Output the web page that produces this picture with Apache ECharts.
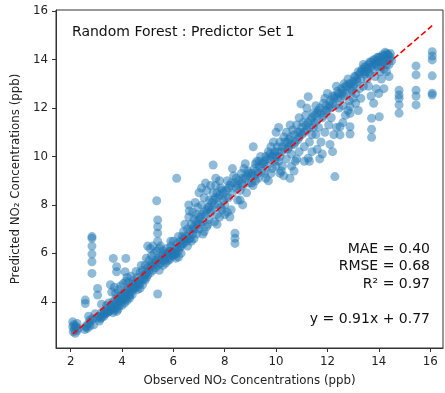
<!DOCTYPE html>
<html>
<head>
<meta charset="utf-8">
<script src="https://cdn.jsdelivr.net/npm/echarts@6/dist/echarts.min.js"></script>
<style>
  html, body { margin: 0; padding: 0; background: #fff; }
  #chart { width: 445px; height: 393px; }
</style>
</head>
<body>
<div id="chart"></div>
<script>
// Observed vs predicted NO2 (ppb), grouped by observed-value range
const bandLow = [
  [2.08,3.17],[2.08,2.97],[2.1,2.76],[2.12,3.05],[2.15,2.85],[2.2,2.95],[2.25,3.1],[2.18,2.7],[2.3,2.9],
  [2.55,2.85],[2.6,3.0],[2.65,2.9],[2.7,3.1],[2.75,3.0],[2.8,3.2],[2.85,3.3],[2.9,3.05],[2.7,3.4],[2.95,3.5],
  [3.1,3.4],[3.15,3.3],[3.2,3.55],[3.25,3.45],[3.3,3.6],[3.35,3.5],[3.4,3.7],[3.45,3.6],[3.12,3.2],[3.3,3.4],
  [3.2,3.9],[3.4,3.85],[3.05,3.35],[3.48,3.95],
  [3.5,3.6],[3.55,3.8],[3.6,3.7],[3.65,4.0],[3.7,3.9],[3.75,4.1],[3.8,3.75],[3.85,4.2],[3.9,4.0],[3.95,4.3],
  [3.6,4.4],[3.7,4.6],[3.55,4.7],[3.8,3.6],[3.9,3.85],[3.65,3.55],[3.75,4.35],[3.85,4.5],[3.95,4.65],[3.7,3.65],[3.9,4.1],
  [4.0,4.0],[4.05,4.2],[4.1,4.4],[4.15,4.1],[4.2,4.5],[4.25,4.3],[4.3,4.6],[4.35,4.4],[4.4,4.7],[4.45,4.5],
  [4.2,5.0],[4.0,3.85],[4.1,3.95],[4.2,4.05],[4.3,4.15],[4.05,4.75],[4.15,4.85],[4.4,4.3],[4.45,4.9],[4.25,4.8],[4.35,5.05],
  [4.5,4.6],[4.55,4.8],[4.6,5.0],[4.65,4.7],[4.7,5.2],[4.75,4.9],[4.8,5.3],[4.85,5.1],[4.9,5.5],[4.95,5.2],
  [4.6,4.5],[4.7,4.55],[4.8,4.7],[4.9,4.9],[4.55,5.25],[4.75,5.5],[4.95,5.8],
  [2.2,3.0],[2.25,2.8],[2.6,2.95],[2.75,3.25],[3.2,3.35],[3.3,3.5],[3.45,3.55],[3.55,3.65],[3.6,3.85],[3.7,3.75],
  [3.8,3.95],[3.85,3.7],[3.95,4.05],[4.0,4.25],[4.1,4.15],[4.15,4.35],[4.25,4.45],[4.3,4.25],[4.4,4.55],[4.5,4.75],
  [4.55,4.6],[4.65,4.85],[4.7,4.75],[4.85,4.95],[4.9,5.1],[4.95,5.0]
];

const bandMid = [
  [5.0,5.4],[5.05,5.7],[5.1,5.5],[5.15,5.9],[5.2,5.6],[5.25,6.0],[5.3,5.7],[5.35,6.1],[5.4,5.8],[5.45,6.2],
  [5.0,6.3],[5.1,6.2],[5.2,6.3],[5.0,5.1],[5.1,5.2],[5.2,5.3],[5.3,5.4],[5.4,5.5],[5.45,5.3],
  [5.5,5.6],[5.55,5.9],[5.6,6.1],[5.65,5.7],[5.7,6.0],[5.75,6.2],[5.8,5.8],[5.85,6.1],[5.9,6.3],[5.95,5.9],
  [5.5,6.3],[5.6,5.5],[5.7,5.6],[5.8,5.7],[5.9,6.5],[5.95,6.0],
  [6.0,5.9],[6.05,6.2],[6.1,6.0],[6.15,6.4],[6.2,6.1],[6.25,6.5],[6.3,6.3],[6.35,6.7],[6.4,6.4],[6.45,6.6],
  [6.1,5.8],[6.2,5.85],[6.3,6.0],[6.4,6.9],[6.45,7.2],[6.0,6.5],[6.2,6.7],
  [6.5,6.5],[6.55,7.0],[6.6,7.5],[6.62,7.75],[6.6,8.0],[6.65,6.6],[6.7,7.2],[6.75,6.8],[6.8,7.4],[6.85,7.0],
  [6.9,7.6],[6.95,7.2],[6.55,6.3],[6.7,6.5],[6.8,6.6],[6.9,6.8],[6.95,7.9],[6.75,7.7],[6.85,8.1],
  [7.0,7.0],[7.05,7.5],[7.1,8.0],[7.15,7.3],[7.2,8.3],[7.25,7.6],[7.3,8.6],[7.35,7.9],[7.4,8.2],[7.45,7.7],
  [7.0,8.5],[7.1,8.7],[7.2,6.9],[7.3,7.1],[7.4,7.4],[7.45,8.8],[7.25,8.9],[7.15,6.8],[7.35,7.2],
  [7.5,7.8],[7.55,8.5],[7.6,8.0],[7.65,8.8],[7.7,7.6],[7.75,8.3],[7.8,9.0],[7.85,7.9],[7.9,8.6],[7.95,8.2],
  [7.6,7.3],[7.7,7.2],[7.8,7.5],[7.9,7.8],[7.65,9.1],[7.75,8.0],
  [8.0,8.0],[8.05,8.6],[8.1,9.0],[8.15,8.3],[8.2,8.8],[8.25,7.8],[8.3,8.5],[8.35,9.2],[8.45,8.7],
  [8.0,7.6],[8.1,7.7],[8.2,7.5],[8.3,9.5],[8.45,9.1],[8.5,8.2],
  [8.55,9.0],[8.6,8.6],[8.65,9.3],[8.7,8.8],[8.75,9.5],[8.8,9.1],[8.85,8.5],[8.9,9.4],[8.95,8.9],[8.6,8.2],[8.8,9.7],[8.7,8.0],
  [9.0,9.2],[9.05,8.9],[9.15,9.5],[9.2,9.0],[9.25,9.8],[9.3,9.3],[9.35,9.6],[9.4,10.0],[9.45,9.4],[9.1,8.8],[9.3,9.1],[9.2,9.7],
  [9.5,9.7],[9.55,9.3],[9.6,10.0],[9.65,9.6],[9.7,10.2],[9.75,9.9],[9.8,10.4],[9.85,9.5],[9.9,10.1],[9.95,9.8],
  [9.6,9.1],[9.8,9.3],[9.9,10.6],[9.7,9.0],
  [5.05,5.3],[5.15,5.45],[5.25,5.55],[5.35,5.65],[5.45,5.75],[5.55,5.75],[5.6,5.95],[5.7,5.85],[5.8,6.0],[5.85,5.75],
  [5.9,6.1],[6.0,6.05],[6.05,5.95],[6.15,6.2],[6.25,6.25],[6.35,6.4],[6.4,6.6],[6.5,6.7],[6.6,6.6],[6.65,6.9],
  [6.75,7.0],[6.8,7.1],[6.9,7.3],[7.0,7.4],[7.05,7.2],[7.1,7.6],[7.2,7.7],[7.3,7.8],[7.4,7.9],[7.5,8.1],
  [7.55,8.2],[7.65,8.3],[7.7,8.5],[7.8,8.4],[7.85,8.7],[7.95,8.5],[8.05,8.3],[8.15,8.7],[8.25,8.9],[8.4,8.9],
  [8.5,8.8],[8.65,8.9],[8.7,9.1],[8.85,9.2],[8.95,9.3],[9.05,9.3],[9.15,9.2],[9.25,9.4],[9.35,9.8],[9.45,9.7],
  [9.55,9.8],[9.65,9.9],[9.75,10.1],[9.85,10.0],[9.95,10.2]
];

const bandHigh = [
  [10.0,10.0],[10.05,10.4],[10.1,9.8],[10.15,10.6],[10.2,10.2],[10.25,9.6],[10.3,10.8],[10.35,10.3],[10.4,9.9],[10.45,10.6],
  [10.0,11.0],[10.1,11.2],[10.2,9.4],[10.3,9.2],[10.4,11.0],[10.0,9.6],[10.15,9.3],
  [10.5,10.4],[10.55,10.8],[10.6,10.1],[10.65,11.1],[10.7,10.5],[10.75,9.8],[10.8,11.3],[10.85,10.7],[10.9,10.2],[10.95,11.0],
  [10.6,9.6],[10.7,9.4],[10.8,9.9],[10.9,11.6],[10.55,11.3],
  [11.0,10.9],[11.05,11.4],[11.1,10.4],[11.15,11.7],[11.2,11.1],[11.3,10.6],[11.35,11.5],[11.4,10.9],[11.45,11.8],
  [11.1,9.8],[11.3,9.8],[11.4,10.2],[11.2,12.0],[11.45,11.2],
  [11.5,11.4],[11.55,10.9],[11.6,11.8],[11.65,11.2],[11.7,12.0],[11.75,10.6],[11.8,11.6],[11.85,12.2],[11.9,11.0],[11.95,11.9],
  [11.6,10.3],[11.7,9.9],[11.8,10.1],[11.9,12.4],[11.55,12.1],
  [12.0,11.9],[12.05,11.3],[12.1,12.3],[12.15,11.6],[12.2,12.5],[12.25,10.9],[12.3,12.1],[12.35,11.2],[12.4,12.7],[12.45,12.0],
  [12.1,10.5],[12.2,10.2],[12.35,12.9],[12.0,12.6],
  [12.5,12.4],[12.55,12.8],[12.6,12.1],[12.65,13.0],[12.7,11.7],[12.75,12.6],[12.8,13.2],[12.85,12.3],[12.9,13.0],[12.95,12.7],
  [12.6,11.4],[12.7,12.9],[12.8,11.9],
  [13.0,12.9],[13.05,13.3],[13.1,12.6],[13.15,13.1],[13.2,13.5],[13.25,12.8],[13.3,13.2],[13.35,13.6],[13.4,12.9],[13.45,13.4],
  [13.1,12.2],[13.2,11.9],[13.3,12.4],[13.4,13.8],[13.0,12.4],
  [13.5,13.5],[13.55,13.2],[13.6,13.8],[13.65,13.4],[13.7,13.9],[13.75,13.6],[13.8,14.0],[13.85,13.3],[13.9,13.8],[13.95,14.1],
  [13.6,12.9],[13.7,12.5],[13.8,12.2],[13.9,12.8],
  [14.0,13.9],[14.05,14.1],[14.1,13.7],[14.15,14.2],[14.2,13.9],[14.25,14.3],[14.3,14.0],[14.35,14.2],[14.37,14.19],[14.4,13.8],
  [14.45,14.1],[14.1,13.2],[14.2,12.8],[14.3,13.5],[14.4,13.3],[14.0,12.6],[14.5,13.95],
  [10.05,10.2],[10.15,10.0],[10.25,10.4],[10.35,10.6],[10.45,10.3],[10.5,10.7],[10.6,10.5],[10.7,10.9],[10.75,10.6],[10.85,11.0],
  [10.9,10.8],[11.0,11.2],[11.1,11.0],[11.15,11.3],[11.25,11.4],[11.3,11.2],[11.4,11.6],[11.5,11.7],[11.6,11.5],[11.65,11.9],
  [11.75,11.8],[11.85,11.7],[11.95,12.1],[12.05,12.0],[12.1,12.1],[12.2,12.2],[12.25,12.4],[12.3,12.5],[12.4,12.4],[12.45,12.6],
  [12.55,12.6],[12.6,12.7],[12.65,12.5],[12.75,12.9],[12.85,13.0],[12.9,12.8],[13.0,13.1],[13.05,13.0],[13.1,13.3],[13.15,13.2],
  [13.25,13.4],[13.3,13.5],[13.4,13.5],[13.45,13.7],[13.5,13.7],[13.55,13.6],[13.6,13.5],[13.65,13.9],[13.7,13.7],[13.8,13.8],
  [13.85,14.0],[13.9,13.9],[13.95,13.7],[14.0,14.1],[14.1,14.0],[14.15,13.9],[14.2,14.15],[14.3,14.25],[14.4,14.0],[14.45,14.25],
  [14.3,13.8],[14.2,13.6],[14.05,13.5]
];

// Isolated points and vertical runs away from the main band
const offBand = [
  [2.57,4.07],[2.57,3.93],
  [2.83,6.69],[2.83,6.62],[2.83,6.3],[2.83,5.97],[2.83,5.65],[2.83,5.17],
  [3.05,4.55],[3.05,4.28],
  [3.66,5.79],[3.79,5.45],[3.79,5.24],[4.15,5.79],[4.12,5.24],
  [5.35,8.17],[5.39,7.38],[5.39,7.1],[5.39,6.83],[5.39,6.5],[5.39,4.32],
  [6.13,9.1],[7.55,9.65],
  [8.4,6.83],[8.4,6.62],[8.4,6.41],
  [9.11,10.4],[10.54,9.1],[10.97,12.17],[11.25,12.47],[11.25,9.93],
  [12.29,9.17],[12.49,11.23],[12.49,10.89],
  [12.88,12.06],[12.88,11.78],[12.88,11.23],[12.88,10.93],
  [13.72,11.58],[13.72,11.12],[13.72,10.79],[14.02,11.64],
  [14.79,12.74],[14.79,12.54],[14.79,12.4],[14.79,12.13],[14.79,11.79],
  [15.45,13.74],[15.45,13.37],[15.45,12.74],[15.45,12.5],[15.45,12.13],
  [16.08,14.33],[16.08,14.15],[16.08,13.99],[16.08,13.33],[16.08,12.61],[16.08,12.54]
];

const xTicks = [2, 4, 6, 8, 10, 12, 14, 16];
const yTicks = [4, 6, 8, 10, 12, 14, 16];

// Linear fit and scores
const fitSlope = 0.91;
const fitIntercept = 0.77;
const scoreLines = ['MAE = 0.40', 'RMSE = 0.68', 'R² = 0.97', '', 'y = 0.91x + 0.77'];

const points = bandLow.concat(bandMid, bandHigh, offBand);
const xs = points.map(p => p[0]);
const xMinObs = Math.min(...xs);
const xMaxObs = Math.max(...xs);
const fitLine = [
  [xMinObs, fitSlope * xMinObs + fitIntercept],
  [xMaxObs, fitSlope * xMaxObs + fitIntercept]
];

const FONT = 'DejaVu Sans';
const chart = echarts.init(document.getElementById('chart'), null, { renderer: 'canvas' });

const axisCommon = {
  type: 'value',
  splitLine: { show: false },
  axisLine: { show: true, onZero: false, lineStyle: { color: '#333', width: 1 } },
  nameTextStyle: { fontFamily: FONT, fontSize: 11.8, color: '#222' }
};

// stats block, right-aligned, one text element per line
const statGraphics = scoreLines.map((line, i) => ({
  type: 'text',
  x: 430, y: 242 + i * 17.5,
  style: { text: line, font: '14px "' + FONT + '"', fill: '#111', align: 'right', verticalAlign: 'top' }
}));

chart.setOption({
  animation: false,
  grid: { left: 56, right: 2, top: 10, bottom: 45, show: true, borderColor: '#333', borderWidth: 1, backgroundColor: 'transparent' },
  xAxis: Object.assign({}, axisCommon, {
    min: 1.43, max: 16.5,
    name: 'Observed NO₂ Concentrations (ppb)',
    nameLocation: 'middle', nameGap: 27,
    axisTick: { show: true, inside: false, length: 4, customValues: xTicks, lineStyle: { color: '#333' } },
    axisLabel: { customValues: xTicks, margin: 8, fontFamily: FONT, fontSize: 11.8, color: '#222' }
  }),
  yAxis: Object.assign({}, axisCommon, {
    min: 2.09, max: 16.05,
    name: 'Predicted NO₂ Concentrations (ppb)',
    nameLocation: 'middle', nameGap: 27,
    axisTick: { show: true, inside: false, length: 4, customValues: yTicks, lineStyle: { color: '#333' } },
    axisLabel: { customValues: yTicks, margin: 8, fontFamily: FONT, fontSize: 11.8, color: '#222' }
  }),
  series: [
    {
      type: 'scatter',
      data: points,
      symbol: 'circle',
      symbolSize: 9,
      itemStyle: { color: '#1f77b4', opacity: 0.5 },
      z: 2
    },
    {
      type: 'line',
      data: fitLine,
      symbol: 'none',
      lineStyle: { color: '#ff0000', width: 1.6, type: [6, 3] },
      z: 3
    }
  ],
  graphic: [
    {
      type: 'text', left: 72, top: 25,
      style: { text: 'Random Forest : Predictor Set 1', font: '14px "' + FONT + '"', fill: '#111' }
    }
  ].concat(statGraphics)
});
</script>
</body>
</html>
